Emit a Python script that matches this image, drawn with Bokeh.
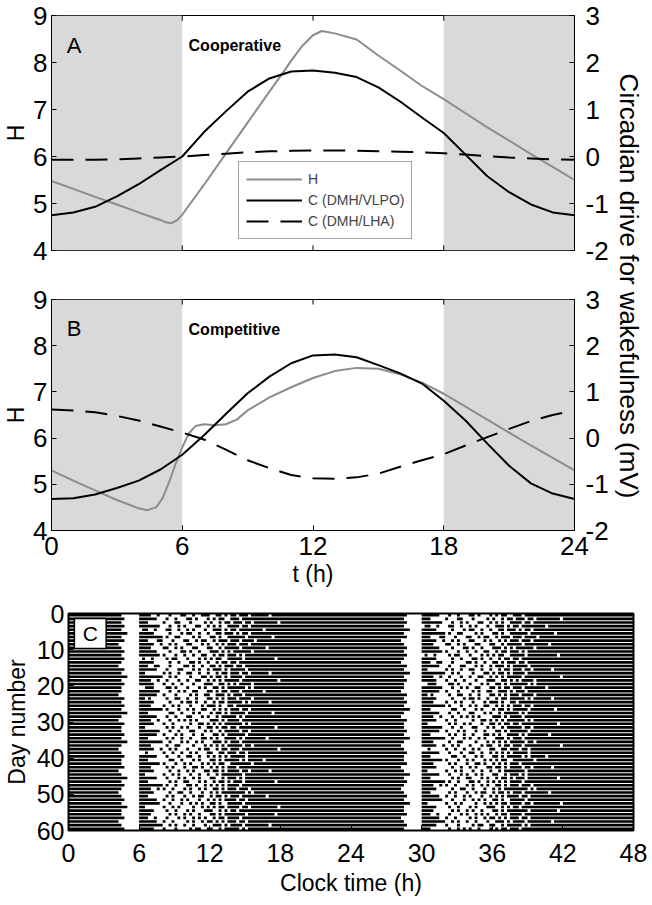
import numpy as np
from bokeh.plotting import figure
from bokeh.models import Range1d, LinearAxis, FixedTicker, Legend, LegendItem
from bokeh.layouts import column, row
from bokeh.embed import file_html
from bokeh.resources import INLINE
from bokeh.core.properties import value

FONT = "Liberation Sans"

# ---------------- data ----------------
hours = list(range(25))
dark_start = [0, 18]
dark_end = [6, 24]

# Panel A (cooperative)
tA_H = [0, 1, 2, 3, 4, 5, 5.25, 5.5, 5.75, 6, 7, 8, 9, 10, 10.65, 11, 11.5, 12, 12.4, 13, 14, 15, 16, 17, 18, 19, 20, 21, 22, 23, 24]
H_A = [5.48, 5.31, 5.14, 4.98, 4.81, 4.65, 4.60, 4.58, 4.64, 4.76, 5.40, 6.06, 6.72, 7.38, 7.80, 8.04, 8.35, 8.58, 8.67, 8.62, 8.49, 8.15, 7.83, 7.50, 7.22, 6.92, 6.62, 6.34, 6.05, 5.78, 5.50]
C_A_VLPO = [-1.25, -1.19, -1.07, -0.85, -0.59, -0.29, 0.0, 0.52, 0.96, 1.38, 1.66, 1.81, 1.83, 1.78, 1.69, 1.47, 1.17, 0.83, 0.50, 0.04, -0.42, -0.76, -1.02, -1.19, -1.25]
C_A_LHA = [-0.07, -0.07, -0.07, -0.06, -0.04, -0.02, 0.0, 0.03, 0.06, 0.09, 0.11, 0.12, 0.13, 0.13, 0.12, 0.11, 0.10, 0.09, 0.07, 0.04, 0.01, -0.02, -0.04, -0.06, -0.07]

# Panel B (competitive)
tB_H = [0, 1, 2, 3, 4, 4.4, 4.8, 5.1, 5.4, 5.7, 6.0, 6.3, 6.6, 7.0, 7.5, 8.0, 8.5, 9, 10, 11, 12, 13, 14, 15, 16, 17, 18, 19, 20, 21, 22, 23, 24]
H_B = [5.30, 5.08, 4.87, 4.66, 4.48, 4.44, 4.50, 4.70, 5.05, 5.45, 5.80, 6.10, 6.26, 6.30, 6.28, 6.30, 6.40, 6.60, 6.88, 7.10, 7.30, 7.45, 7.52, 7.50, 7.38, 7.20, 6.96, 6.68, 6.40, 6.12, 5.84, 5.57, 5.30]
C_B_VLPO = [-1.32, -1.30, -1.22, -1.08, -0.92, -0.68, -0.36, 0.06, 0.52, 0.97, 1.33, 1.62, 1.79, 1.81, 1.75, 1.58, 1.40, 1.18, 0.81, 0.38, -0.12, -0.60, -0.98, -1.20, -1.32]
C_B_LHA = [0.62, 0.60, 0.56, 0.48, 0.38, 0.25, 0.12, -0.03, -0.25, -0.48, -0.65, -0.80, -0.87, -0.88, -0.85, -0.77, -0.62, -0.48, -0.35, -0.16, 0.02, 0.20, 0.37, 0.50, 0.60]

h_ticks = [4, 5, 6, 7, 8, 9]
c_ticks = [-2, -1, 0, 1, 2, 3]
c_tick_labels = ["-2", "-1", "0", "1", "2", "3"]
t_ticks = [0, 6, 12, 18, 24]
clock_ticks = [0, 6, 12, 18, 24, 30, 36, 42, 48]
day_ticks = [0, 10, 20, 30, 40, 50, 60]

# Panel C: sleep ('#') / wake ('.') per day, 15-min bins from 04:00 to 18:00
# (asleep outside that window)
raster_start = 4.0
raster_bin = 0.25
days = [
    "##...... ####..#. ..#...## ..#..### ..##.#.# #.###.## ####.###",
    "###..... ######.. .#..#... ##.#...# .#.##..# ##.##### ########",
    "##...... ###..... #...##.. .#....#. #..#.##. ###.##.# #######.",
    "###..... #######. ..#..#.# ...##..# .#.#..## ##.##.## ########",
    "##...... .##..#.. .##..#.. #.#...#. .###.#.# #.###### ##.#####",
    "####.... #####... ..#...#. ##..#..# ..##.### .#.##.## ########",
    "##...... ######## .#..##.. ..#.#... ##.#..## ####.### #####.##",
    "###..... ###...## ...#...# #..#.##. .#.###.# ##.####. ########",
    "#....... #####..# ..#.#... ##...#.# ..#.#.## #.###.## ########",
    "##...... ####.... ##..#.#. ..##...# #..#.### ##.##### ###.####",
    "###..... ######.. ..#...## .#..#... ###.#.#. ######.# ########",
    "##...... #######. #...#..# ..#..##. .#.##.## #.#.#### ########",
    "###..... .#..#... .#.##... #...#.#. #.##..## ###.#### ######.#",
    "##...... #####... ..#..#.. .##.#..# ..#.##.# #.###### ########",
    "#....... ###..##. ..#....# #.#..#.. ##.#.### .##.#### ########",
    "###..... ######.. .#...##. ..#.#..# .###.#.# ####.### ########",
    "##...... ##...... #.#..#.. ##..#..# ..#.##.# ##.##.## ####.###",
    "####.... ######## ..#.#... .#...##. #.##.#.# ###.#### ########",
    "##...... ####..#. .#...#.. #..##..# .#.#.### ##.##### #######.",
    "###..... #####... #..#..#. ..#...## #..##.#. #.####.# ########",
    "##...... ..###... .##.#... #...#.#. .##.#.## ####.#.# ########",
    "##...... #######. ..#..#.# ..##...# #.#.##.# ##.##### ##.#####",
    "#....... ######.. #...#... .#.#..## ..###.#. ###.#### ########",
    "###..... ##.#.... .#..##.. #..#...# #.#.#.## #.####.# ########",
    "##...... #####... ..#...#. ##.#..#. .#.##.## ###.#.## ####.###",
    "###..... ####.... #..#.#.. .#...#.# ##.#..## .####### ########",
    "##...... ######## .#...#.. #.#..##. .#.#.#.# ##.##.## ########",
    "####.... ###..... ..##..#. ..#.#... #.##.#.# ####.### #####.##",
    "##...... ######.. .#..#... ##...#.# ..#.#### #.#.#### ########",
    "#....... ####..#. ..#..#.# .#.#.... ###.#.## ##.##### ########",
    "###..... #####... #..#.... .#..##.# .#.#.### ###.#.## ########",
    "##...... ##...... .#.#..#. #...#..# #.#.##.# #.###### ######.#",
    "##...... #######. ..#..#.. .##...#. #..#.### ##.##.## ########",
    "###..... ######.. #...#.#. ..#..#.. .##.#.## ####.### ########",
    "##...... ###..... .#.#..#. .#...##. #.#..### #.#.#### ###.####",
    "####.... ######## ..#...#. #..#.#.. .###.#.# ##.##### ########",
    "##...... ####.... .#..##.. ..#...#. #.#.#.## ###.##.# ########",
    "#....... #####..# ..#.#... #...#.## ..#.##.# ##.##### #######.",
    "##...... ..#..... #..#..#. .#.#...# #..##.## #.##.### ########",
    "###..... ######.. .#...#.. ##..#..# .#.#.#.# ####.### ########",
    "##...... ###..... ..##..#. ..#.#... ##.#.### ##.#.### ##.#####",
    "##...... #######. #...#..# .#...#.# .#.##..# ######.# ########",
    "###..... ####.... .#.#...# ..##.#.. #.#.#.## #.###### ########",
    "#....... #####... ..#..#.. #.#...## .##.#.## ##.##.## ####.###",
    "##...... ##...... #..#.#.. .#..#..# ..#.#### ###.#### ########",
    "####.... ######.. .#...#.# ..#.#... ##..#.## #.#.#### ########",
    "##...... ###..... ..#.#..# #...#.#. .#.##.#. ###.#### ######.#",
    "###..... ######## .#..#... ##.#..#. #.#.#.## ##.##### ########",
    "##...... ####..#. #..#...# .#..#.#. .##.#.## #.###.## ########",
    "#....... #####... ..#..##. .#...#.. #.#.#### ####.#.# ########",
    "##...... ###..... .#.#...# ..#.##.. #.##.#.# ##.##### ###.####",
    "###..... ######.. #..#..#. #...#..# .#.#.### #.##.### ########",
    "##...... #######. ..#...#. .#.#.#.. ##.#..## ###.#### ########",
    "####.... ##...... #..#.#.. ..#..#.# .#.##.## ##.##.## #######.",
    "##...... #####... .#..#... #.#...## #..#.#.# #.###### ########",
    "##...... ####.... ..#.#..# .#..#... ##.#.### ####.### ######.#",
    "###..... ###..#.. .#...#.# ..#.#.#. .#.##.## ##.##### ########",
    "#....... ######.. #..#.... #.#..#.# #.#.#.## #.##.### ########",
    "##...... ######## ..#.#..# ..#...#. .###.#.# ###.#### ####.###",
    "###..... #####... #...#... .#.##..# #..#.### ##.#.### ########",
    "##...... ###..... .#..#.#. #..#...# .#.##.## #.###### ########",
]

# ---------------- helpers ----------------
GRAY = "#8c8c8c"
SHADE = "#d9d9d9"


def style_axis(ax, size="26px"):
    ax.major_label_text_font = FONT
    ax.major_label_text_font_size = size
    ax.major_label_text_color = "black"
    ax.axis_label_text_font = FONT
    ax.axis_label_text_font_size = "23px"
    ax.axis_label_text_font_style = "normal"
    ax.axis_label_text_color = "black"
    ax.axis_line_color = "black"
    ax.axis_line_width = 1
    ax.major_tick_line_color = "black"
    ax.major_tick_in = 5
    ax.major_tick_out = 0
    ax.minor_tick_line_color = None


def curve_panel(tH, H, C_V, C_L, letter, name, show_x, height, mb_top, mb_bottom):
    p = figure(width=611, height=height, x_range=Range1d(0, 24), y_range=Range1d(4, 9),
               output_backend="svg", toolbar_location=None,
               min_border_left=51, min_border_right=37,
               min_border_top=mb_top, min_border_bottom=mb_bottom)
    p.extra_y_ranges = {"c": Range1d(-2, 3)}
    p.grid.visible = False
    p.outline_line_color = "black"
    p.outline_line_width = 1
    p.background_fill_color = "white"
    p.border_fill_color = "white"

    p.yaxis.ticker = FixedTicker(ticks=h_ticks)
    p.yaxis.axis_label = "H"
    style_axis(p.yaxis[0])
    p.yaxis.major_label_standoff = 4
    p.yaxis.axis_label_standoff = 1
    if show_x:
        p.xaxis.ticker = FixedTicker(ticks=t_ticks)
        style_axis(p.xaxis[0])
        p.xaxis.axis_label = "t (h)"
        p.xaxis.major_label_standoff = 6
        p.xaxis.axis_label_standoff = 3
    else:
        p.xaxis.visible = False
        # inward tick marks on the bottom edge
        p.segment(x0=t_ticks, y0=[4] * len(t_ticks), x1=t_ticks, y1=[4.11] * len(t_ticks),
                  line_color="black", line_width=1)
    # inward tick marks on the top edge
    p.segment(x0=t_ticks, y0=[9] * len(t_ticks), x1=t_ticks, y1=[8.89] * len(t_ticks),
              line_color="black", line_width=1)

    ax_r = LinearAxis(y_range_name="c", ticker=FixedTicker(ticks=c_ticks),
                      major_label_overrides=dict(zip(c_ticks, c_tick_labels)))
    style_axis(ax_r)
    ax_r.major_label_standoff = 11
    p.add_layout(ax_r, "right")

    p.quad(left=dark_start, right=dark_end, bottom=4, top=9, fill_color=SHADE, line_color=None,
           level="underlay")
    rH = p.line(tH, H, line_color=GRAY, line_width=2)
    rV = p.line(hours, C_V, y_range_name="c", line_color="black", line_width=2)
    rL = p.line(hours, C_L, y_range_name="c", line_color="black", line_width=2, line_dash="22 12")

    p.text(x=[0.7], y=[8.37], text=[letter], text_font=value(FONT), text_font_size="22px",
           text_baseline="middle", text_align="left", text_color="black")
    p.text(x=[6.29], y=[8.36], text=[name], text_font=value(FONT), text_font_size="16px",
           text_font_style="bold", text_baseline="middle", text_align="left", text_color="black")
    return p, rH, rV, rL


pA, rH, rV, rL = curve_panel(tA_H, H_A, C_A_VLPO, C_A_LHA, "A", "Cooperative", False, 275, 15, 25)
legend = Legend(items=[LegendItem(label="H", renderers=[rH]),
                       LegendItem(label="C (DMH/VLPO)", renderers=[rV]),
                       LegendItem(label="C (DMH/LHA)", renderers=[rL])],
                location=(187, 11), label_text_font=FONT, label_text_font_size="14px",
                glyph_width=56, glyph_height=20, label_height=20, label_standoff=6,
                spacing=1, padding=7, margin=0, border_line_color="#444444",
                border_line_width=1, background_fill_color="white", background_fill_alpha=1)
pA.add_layout(legend)

pB, _, _, _ = curve_panel(tB_H, H_B, C_B_VLPO, C_B_LHA, "B", "Competitive", True, 320, 24, 65)

# shared right-hand axis title (spans panels A and B)
pL = figure(width=41, height=595, x_range=Range1d(0, 1), y_range=Range1d(0, 1),
            output_backend="svg", toolbar_location=None,
            x_axis_location=None, y_axis_location=None,
            min_border_left=0, min_border_right=39, min_border_top=0, min_border_bottom=24)
pL.grid.visible = False
pL.outline_line_color = None
lab_ax = LinearAxis(ticker=FixedTicker(ticks=[]), axis_label="Circadian drive for wakefulness (mV)")
lab_ax.axis_line_color = None
lab_ax.major_tick_line_color = None
lab_ax.minor_tick_line_color = None
lab_ax.major_label_standoff = 0
lab_ax.axis_label_standoff = 0
lab_ax.axis_label_text_font = FONT
lab_ax.axis_label_text_font_size = "26px"
lab_ax.axis_label_text_font_style = "normal"
lab_ax.axis_label_text_color = "black"
pL.add_layout(lab_ax, "right")

# Panel C raster
lefts, rights, tops, bottoms = [], [], [], []


def sleep_intervals(s):
    s = s.replace(" ", "")
    ivs = [[0.0, raster_start]]
    for i, ch in enumerate(s):
        a = raster_start + i * raster_bin
        b = a + raster_bin
        if ch == "#":
            if abs(ivs[-1][1] - a) < 1e-9:
                ivs[-1][1] = b
            else:
                ivs.append([a, b])
    end = raster_start + len(s) * raster_bin
    if abs(ivs[-1][1] - end) < 1e-9:
        ivs[-1][1] = 24.0
    else:
        ivs.append([end, 24.0])
    return ivs


n_rows = len(days) - 1
for r in range(1, n_rows + 1):
    for shift, d in ((0, r), (24, r + 1)):
        for a, b in sleep_intervals(days[d - 1]):
            lefts.append(a + shift)
            rights.append(b + shift)
            tops.append(r - 1 + 0.14)
            bottoms.append(r - 0.14)

pC = figure(width=652, height=310, x_range=Range1d(0, 48), y_range=Range1d(60, 0),
            output_backend="svg", toolbar_location=None,
            min_border_left=67, min_border_right=19, min_border_top=18, min_border_bottom=75)
pC.grid.visible = False
pC.outline_line_color = "black"
pC.outline_line_width = 2
pC.xaxis.ticker = FixedTicker(ticks=clock_ticks)
pC.yaxis.ticker = FixedTicker(ticks=day_ticks)
style_axis(pC.xaxis[0], "25px")
style_axis(pC.yaxis[0], "25px")
pC.xaxis.axis_label = "Clock time (h)"
pC.yaxis.axis_label = "Day number"
pC.xaxis.major_label_standoff = 13
pC.xaxis.axis_label_standoff = 5
pC.yaxis.major_label_standoff = 4
pC.yaxis.axis_label_standoff = 4
pC.quad(left=lefts, right=rights, top=tops, bottom=bottoms, fill_color="black", line_color=None)
pC.quad(left=[0.5], right=[3.2], top=[1.4], bottom=[9.7], fill_color="white",
        line_color="black", line_width=1.5)
pC.text(x=[1.85], y=[5.6], text=["C"], text_align="center", text_baseline="middle",
        text_font=value(FONT), text_font_size="21px", text_color="black")

layout = column(row(column(pA, pB), pL), pC)
open("out.html", "w").write(file_html(layout, INLINE, title="Circadian drive"))
